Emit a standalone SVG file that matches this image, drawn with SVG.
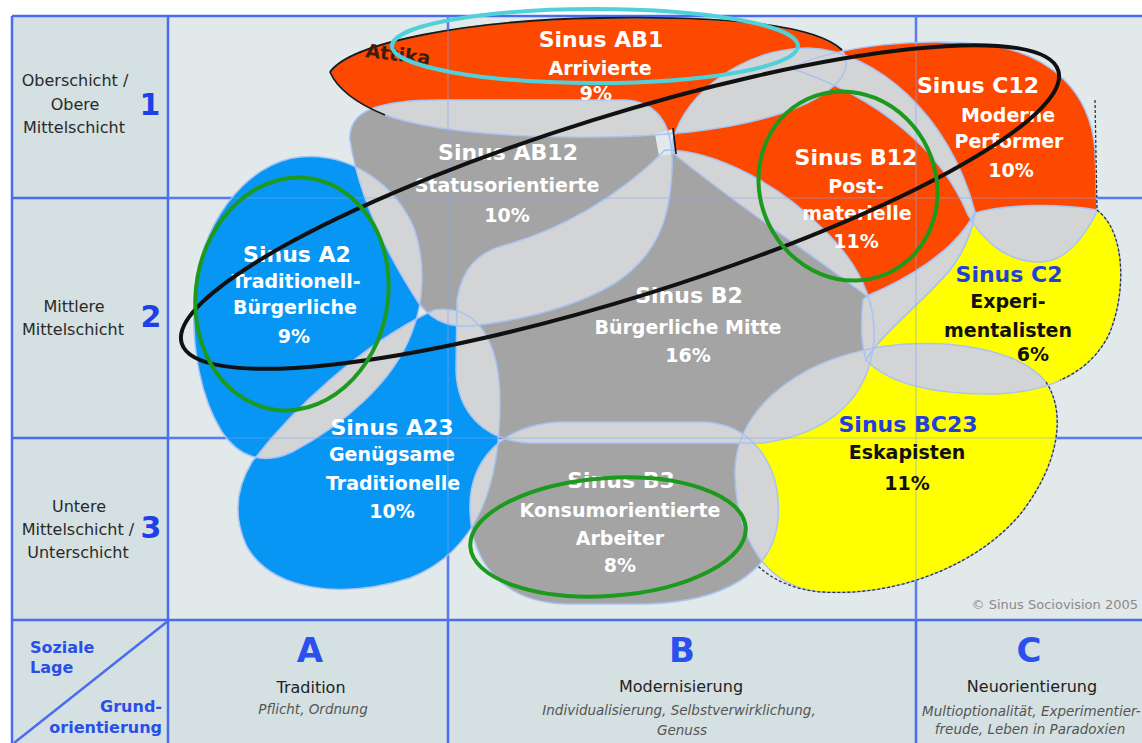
<svg xmlns="http://www.w3.org/2000/svg" width="1142" height="743" viewBox="0 0 1142 743">
<style>
.cell{fill:#d4e0e1}
.main{fill:#e2e9ea}
.grid{stroke:#4a6cf0;stroke-width:2.5;fill:none}
.gridf{stroke:#86a4f2;stroke-width:1.2;fill:none;opacity:.55}
.red{fill:#fd4800}
.gray{fill:#a4a4a4}
.blue{fill:#0896f5}
.yel{fill:#ffff00}
.lens{fill:#d3d4d5}
.edge{fill:none;stroke:#a9c3f2;stroke-width:1.5}
.blk{fill:none;stroke:#1a1a1a;stroke-width:1.8}
.dash{fill:none;stroke:#333;stroke-width:1.3;stroke-dasharray:3 2}
text{font-family:"DejaVu Sans","Liberation Sans",sans-serif}
.t{font-weight:bold;fill:#fff;text-anchor:middle}
.k{fill:#111}
.bl{fill:#2140d8}
.t1{font-size:22px}
.t2{font-size:19px}
.row{font-size:16px;fill:#2a2a2a;text-anchor:middle}
.num{font-size:30px;fill:#1f3fe8;font-weight:bold;text-anchor:middle}
.lab{font-size:16px;fill:#2850e8;font-weight:bold}
.col{font-size:34px;fill:#2a50f0;font-weight:bold;text-anchor:middle}
.cn{font-size:16px;fill:#222;text-anchor:middle}
.sub{font-size:13.5px;fill:#555;font-style:italic;text-anchor:middle}
.subs{font-size:13.5px;fill:#555;font-style:italic;text-anchor:start}
.hl{fill:none;stroke-width:4}
</style>
<defs>
<path id="pA2" d="M300,157 C352,152 396,186 414,228 C426,262 424,302 412,332 C394,382 342,426 292,452 C262,466 238,456 222,432 C200,397 192,347 194,302 C196,227 246,162 300,157Z"/>
<path id="pA23" d="M252,462 C292,410 360,345 434,310 C478,304 500,342 500,402 C500,482 480,550 410,578 C340,600 272,590 247,547 C233,517 236,488 252,462Z"/>
<path id="pAB12" d="M350,140 C348,112 375,100 440,100 L625,100 C660,102 674,128 672,170 C670,215 660,255 612,285 C565,312 505,322 472,326 C443,328 428,316 418,302 C392,262 360,205 350,140Z"/>
<path id="pB2" d="M457,300 C462,266 480,252 505,245 C560,230 620,196 665,150 C720,150 785,190 822,228 C858,262 876,300 874,340 C870,395 832,434 762,443 L530,443 C482,441 457,410 456,370Z"/>
<path id="pB3" d="M470,512 C468,462 500,425 560,422 L705,422 C755,425 782,468 778,520 C773,572 725,602 645,604 L565,604 C502,602 472,562 470,512Z"/>
<path id="pAB1" d="M330,72 C352,42 470,20 600,18 C720,16 815,24 842,50 C862,80 810,118 690,132 C590,142 450,138 385,115 C358,104 338,90 330,72Z"/>
<path id="pB12" d="M673,140 C685,92 745,48 808,48 C875,50 950,115 975,212 C955,252 905,280 867,296 C805,250 730,200 673,153Z"/>
<path id="pC12" d="M790,68 C840,45 920,37 990,45 C1050,55 1090,90 1095,150 L1097,212 C1080,245 1062,262 1040,262 C1010,262 985,245 968,215 C942,152 880,97 790,68Z"/>
<path id="pC2" d="M975,213 C1005,204 1060,203 1097,210 C1126,232 1126,292 1110,332 C1090,376 1045,393 990,394 C935,394 890,385 866,360 C880,335 925,300 950,270 C965,250 972,232 975,213Z"/>
<path id="pBC23" d="M735,475 C733,415 790,362 880,347 C950,337 1020,350 1046,382 C1066,412 1060,462 1022,512 C982,562 902,597 822,592 C770,588 737,545 735,475Z"/>
<path id="pPatch" d="M975,213 C955,252 905,280 867,296 L863,300 C860,330 862,345 866,360 C880,335 925,300 950,270 C965,250 972,232 975,213Z"/>
<clipPath id="cA2"><use href="#pA2"/></clipPath>
<clipPath id="cA23"><use href="#pA23"/></clipPath>
<clipPath id="cAB12"><use href="#pAB12"/></clipPath>
<clipPath id="cB2"><use href="#pB2"/></clipPath>
<clipPath id="cB3"><use href="#pB3"/></clipPath>
<clipPath id="cAB1"><use href="#pAB1"/></clipPath>
<clipPath id="cB12"><use href="#pB12"/></clipPath>
<clipPath id="cC12"><use href="#pC12"/></clipPath>
<clipPath id="cC2"><use href="#pC2"/></clipPath>
<clipPath id="cBC23"><use href="#pBC23"/></clipPath>
</defs>

<rect width="1142" height="743" fill="#ffffff"/>
<g id="grid">
<rect class="cell" x="12" y="16" width="156" height="727"/>
<rect class="main" x="168" y="16" width="974" height="604"/>
<rect class="cell" x="168" y="620" width="974" height="123"/>
<path class="grid" d="M12,16 H1142 M12,16 V743 M168,16 V743 M448,16 V743 M916,16 V743 M12,198 H1142 M12,438 H1142"/>
<path class="grid" stroke-width="3" d="M12,620 H1142"/>
<path class="grid" stroke-width="2" d="M168,621 L14,743"/>
</g>

<g id="regions">
<use href="#pA2" class="blue"/>
<use href="#pA23" class="blue"/>
<use href="#pAB12" class="gray"/>
<use href="#pB2" class="gray"/>
<use href="#pB3" class="gray"/>
<use href="#pAB1" class="red"/>
<use href="#pB12" class="red"/>
<use href="#pC12" class="red"/>
<use href="#pC2" class="yel"/>
<use href="#pBC23" class="yel"/>
<g id="overlaps">
<use href="#pA23" class="lens" clip-path="url(#cA2)"/>
<use href="#pAB12" class="lens" clip-path="url(#cA2)"/>
<use href="#pB2" class="lens" clip-path="url(#cA2)"/>
<use href="#pAB12" class="lens" clip-path="url(#cA23)"/>
<use href="#pB2" class="lens" clip-path="url(#cA23)"/>
<use href="#pB3" class="lens" clip-path="url(#cA23)"/>
<use href="#pAB12" class="lens" clip-path="url(#cAB1)"/>
<use href="#pB12" class="lens" clip-path="url(#cAB1)"/>
<use href="#pC12" class="lens" clip-path="url(#cAB1)"/>
<use href="#pB2" class="lens" clip-path="url(#cAB12)"/>
<use href="#pB12" class="lens" clip-path="url(#cAB12)"/>
<use href="#pB12" class="lens" clip-path="url(#cB2)"/>
<use href="#pB3" class="lens" clip-path="url(#cB2)"/>
<use href="#pC2" class="lens" clip-path="url(#cB2)"/>
<use href="#pBC23" class="lens" clip-path="url(#cB2)"/>
<use href="#pBC23" class="lens" clip-path="url(#cB3)"/>
<use href="#pC12" class="lens" clip-path="url(#cB12)"/>
<use href="#pC2" class="lens" clip-path="url(#cB12)"/>
<use href="#pC2" class="lens" clip-path="url(#cC12)"/>
<use href="#pBC23" class="lens" clip-path="url(#cC2)"/>
<use href="#pPatch" class="lens"/>
</g>
<path d="M655,134 L673,129 L676,153 L659,156Z" fill="#e2e9ea"/>
<g id="edges">
<use href="#pA2" class="edge"/>
<use href="#pA23" class="edge"/>
<use href="#pAB12" class="edge"/>
<use href="#pB2" class="edge"/>
<use href="#pB3" class="edge"/>
<use href="#pAB1" class="edge"/>
<use href="#pB12" class="edge"/>
<use href="#pC12" class="edge"/>
<use href="#pC2" class="edge"/>
<use href="#pBC23" class="edge"/>
<use href="#pPatch" class="edge"/>
</g>
<path class="blk" d="M330,72 C352,42 470,20 600,18 C720,16 815,24 842,50"/>
<path class="blk" d="M385,115 C358,104 338,90 330,72"/>
<path class="blk" d="M673,128 L676,154"/>
<path class="dash" d="M1095,100 L1097,210"/>
<path class="dash" d="M1097,210 C1126,232 1126,292 1110,332 C1100,355 1080,372 1060,380"/>
<path class="dash" d="M1046,382 C1066,412 1060,462 1022,512 C982,562 902,597 822,592 C795,590 772,580 757,565"/>
<path class="gridf" d="M448,16 V620 M916,16 V620 M168,198 H1142 M168,438 H1142"/>
</g>

<g id="row-labels">
<text class="row" x="75" y="86">Oberschicht /</text>
<text class="row" x="75" y="110">Obere</text>
<text class="row" x="74" y="133">Mittelschicht</text>
<text class="num" x="150" y="115">1</text>
<text class="row" x="74" y="312">Mittlere</text>
<text class="row" x="73" y="335">Mittelschicht</text>
<text class="num" x="151" y="327">2</text>
<text class="row" x="79" y="512">Untere</text>
<text class="row" x="78" y="535">Mittelschicht /</text>
<text class="row" x="78" y="558">Unterschicht</text>
<text class="num" x="151" y="538">3</text>
</g>

<g id="col-labels">
<text class="lab" x="30" y="653">Soziale</text>
<text class="lab" x="30" y="673">Lage</text>
<text class="lab" x="162" y="712" text-anchor="end">Grund-</text>
<text class="lab" x="162" y="733" text-anchor="end">orientierung</text>
<text class="col" x="310" y="662">A</text>
<text class="cn" x="311" y="693">Tradition</text>
<text class="sub" x="313" y="714">Pflicht, Ordnung</text>
<text class="col" x="682" y="662">B</text>
<text class="cn" x="681" y="692">Modernisierung</text>
<text class="sub" x="679" y="715">Individualisierung, Selbstverwirklichung,</text>
<text class="sub" x="682" y="735">Genuss</text>
<text class="col" x="1029" y="662">C</text>
<text class="cn" x="1032" y="692">Neuorientierung</text>
<text class="subs" x="922" y="716">Multioptionalität, Experimentier-</text>
<text class="sub" x="1030" y="734">freude, Leben in Paradoxien</text>
<text x="1138" y="609" font-size="13" fill="#8a8a8a" text-anchor="end">© Sinus Sociovision 2005</text>
</g>

<g id="node-AB1">
<text class="t t1" x="601" y="47">Sinus AB1</text>
<text class="t t2" x="600" y="75">Arrivierte</text>
<text class="t t2" x="596" y="100">9%</text>
<text x="365" y="57" font-size="19" font-weight="bold" fill="#3b1d12" transform="rotate(7 365 57)">Attika</text>
</g>
<g id="node-AB12">
<text class="t t1" x="508" y="160">Sinus AB12</text>
<text class="t t2" x="507" y="192">Statusorientierte</text>
<text class="t t2" x="507" y="222">10%</text>
</g>
<g id="node-C12">
<text class="t t1" x="978" y="93">Sinus C12</text>
<text class="t t2" x="1008" y="122">Moderne</text>
<text class="t t2" x="1009" y="148">Performer</text>
<text class="t t2" x="1011" y="177">10%</text>
</g>
<g id="node-B12">
<text class="t t1" x="856" y="165">Sinus B12</text>
<text class="t t2" x="856" y="193">Post-</text>
<text class="t t2" x="857" y="220">materielle</text>
<text class="t t2" x="856" y="248">11%</text>
</g>
<g id="node-A2">
<text class="t t1" x="297" y="262">Sinus A2</text>
<text class="t t2" x="296" y="288">Traditionell-</text>
<text class="t t2" x="295" y="314">Bürgerliche</text>
<text class="t t2" x="294" y="343">9%</text>
</g>
<g id="node-B2">
<text class="t t1" x="689" y="303">Sinus B2</text>
<text class="t t2" x="688" y="334">Bürgerliche Mitte</text>
<text class="t t2" x="688" y="362">16%</text>
</g>
<g id="node-C2">
<text class="t t1 bl" x="1009" y="282">Sinus C2</text>
<text class="t t2 k" x="1008" y="308">Experi-</text>
<text class="t t2 k" x="1008" y="337">mentalisten</text>
<text class="t t2 k" x="1033" y="361">6%</text>
</g>
<g id="node-A23">
<text class="t t1" x="392" y="435">Sinus A23</text>
<text class="t t2" x="392" y="461">Genügsame</text>
<text class="t t2" x="393" y="490">Traditionelle</text>
<text class="t t2" x="392" y="518">10%</text>
</g>
<g id="node-BC23">
<text class="t t1 bl" x="908" y="432">Sinus BC23</text>
<text class="t t2 k" x="907" y="459">Eskapisten</text>
<text class="t t2 k" x="907" y="490">11%</text>
</g>
<g id="node-B3">
<text class="t t1" x="621" y="488">Sinus B3</text>
<text class="t t2" x="620" y="517">Konsumorientierte</text>
<text class="t t2" x="620" y="545">Arbeiter</text>
<text class="t t2" x="620" y="572">8%</text>
</g>

<g id="connectors">
<ellipse class="hl" stroke="#111" cx="620" cy="207" rx="459" ry="91" transform="rotate(-17.3 620 207)"/>
<ellipse class="hl" stroke="#52d0da" cx="595" cy="46" rx="203" ry="37"/>
<ellipse class="hl" stroke="#1b9a1e" cx="292" cy="294" rx="96" ry="117" transform="rotate(10 292 294)"/>
<ellipse class="hl" stroke="#1b9a1e" cx="848" cy="186" rx="88" ry="96" transform="rotate(-25 848 186)"/>
<ellipse class="hl" stroke="#1b9a1e" cx="608" cy="537" rx="138" ry="59" transform="rotate(-4 608 537)"/>
</g>
</svg>
